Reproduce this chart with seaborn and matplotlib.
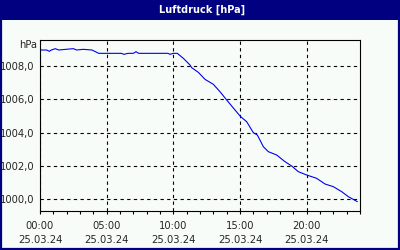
import matplotlib
matplotlib.use("Agg")
import matplotlib.pyplot as plt
import seaborn as sns
import pandas as pd
from matplotlib.patches import Rectangle

# ---- data ----
hours = [0.0, 0.5, 0.7, 0.85, 1.15, 1.4, 2.5, 2.75, 3.25, 3.9, 4.1, 4.4, 6.1, 6.3, 6.6, 7.0, 7.2,
         7.4, 9.6, 9.75, 10.0, 10.3, 10.75, 11.25, 11.375, 11.875, 12.375, 13.0, 13.5, 14.0,
         14.625, 15.05, 15.5, 16.0, 16.3, 16.75, 17.125, 17.75, 18.375, 18.875, 19.375, 20.0,
         20.75, 21.375, 22.0, 22.625, 23.125, 23.8]
pressure = [1008.96, 1008.96, 1008.88, 1008.96, 1009.04, 1008.96, 1009.04, 1008.96, 1009.0,
            1008.96, 1008.88, 1008.76, 1008.76, 1008.70, 1008.76, 1008.76, 1008.86, 1008.76,
            1008.76, 1008.70, 1008.76, 1008.76, 1008.46, 1008.06, 1007.90, 1007.62, 1007.20,
            1006.90, 1006.46, 1005.96, 1005.36, 1004.96, 1004.66, 1004.00, 1003.86, 1003.16,
            1002.86, 1002.66, 1002.26, 1002.00, 1001.66, 1001.46, 1001.26, 1000.92, 1000.76,
            1000.46, 1000.16, 999.86]
x_ticks = [0, 5, 10, 15, 20]
x_tick_labels = ["00:00\n25.03.24", "05:00\n25.03.24", "10:00\n25.03.24",
                 "15:00\n25.03.24", "20:00\n25.03.24"]
y_ticks = [1000, 1002, 1004, 1006, 1008]
y_tick_labels = ["1000,0", "1002,0", "1004,0", "1006,0", "1008,0"]
title = "Luftdruck [hPa]"
unit = "hPa"

df = pd.DataFrame({"h": hours, "p": pressure})

sns.set_style("white")
plt.rcParams["font.family"] = ["DejaVu Sans"]

fig = plt.figure(figsize=(4, 2.5), dpi=100)
fig.patch.set_facecolor("#f8fcf8")

navy = "#000080"
# title band
fig.add_artist(Rectangle((0, 230 / 250), 1, 20 / 250, transform=fig.transFigure,
                         facecolor=navy, edgecolor="none", zorder=0))
# outer border
fig.add_artist(Rectangle((0.002, 0.003), 0.995, 0.995, transform=fig.transFigure,
                         facecolor="none", edgecolor=navy, linewidth=1.6, zorder=5))
fig.text(202 / 400, 240 / 250, title, color="white", fontsize=7, fontweight="bold",
         ha="center", va="center")

ax = fig.add_axes([40 / 400, 1 - 211 / 250, 320 / 400, 171 / 250])
ax.set_facecolor("#f8fcf8")
sns.lineplot(data=df, x="h", y="p", ax=ax, color="#0000f0", linewidth=0.8)

ax.set_xlim(0, 24)
ax.set_ylim(999.3, 1009.56)
ax.set_xticks(x_ticks)
ax.set_xticklabels(x_tick_labels, fontsize=7.2, linespacing=1.5)
ax.set_xticks(range(0, 25), minor=True)
ax.set_yticks(y_ticks)
ax.set_yticklabels(y_tick_labels, fontsize=7.2)
ax.set_xlabel("")
ax.set_ylabel("")

ax.tick_params(axis="x", which="both", direction="out", length=2.2, width=0.8,
               color="black", pad=5, bottom=True)
ax.tick_params(axis="y", which="both", length=0, pad=4)

ax.grid(True, which="major", color="black", linestyle=(0, (3, 3)), linewidth=0.8)
for s in ax.spines.values():
    s.set_visible(True)
    s.set_color("black")
    s.set_linewidth(0.8)

ax.text(-0.01, 1.0 - 5 / 171, unit, transform=ax.transAxes, ha="right", va="center",
        fontsize=7.2)

fig.savefig("out.png", dpi=100, facecolor=fig.get_facecolor())
